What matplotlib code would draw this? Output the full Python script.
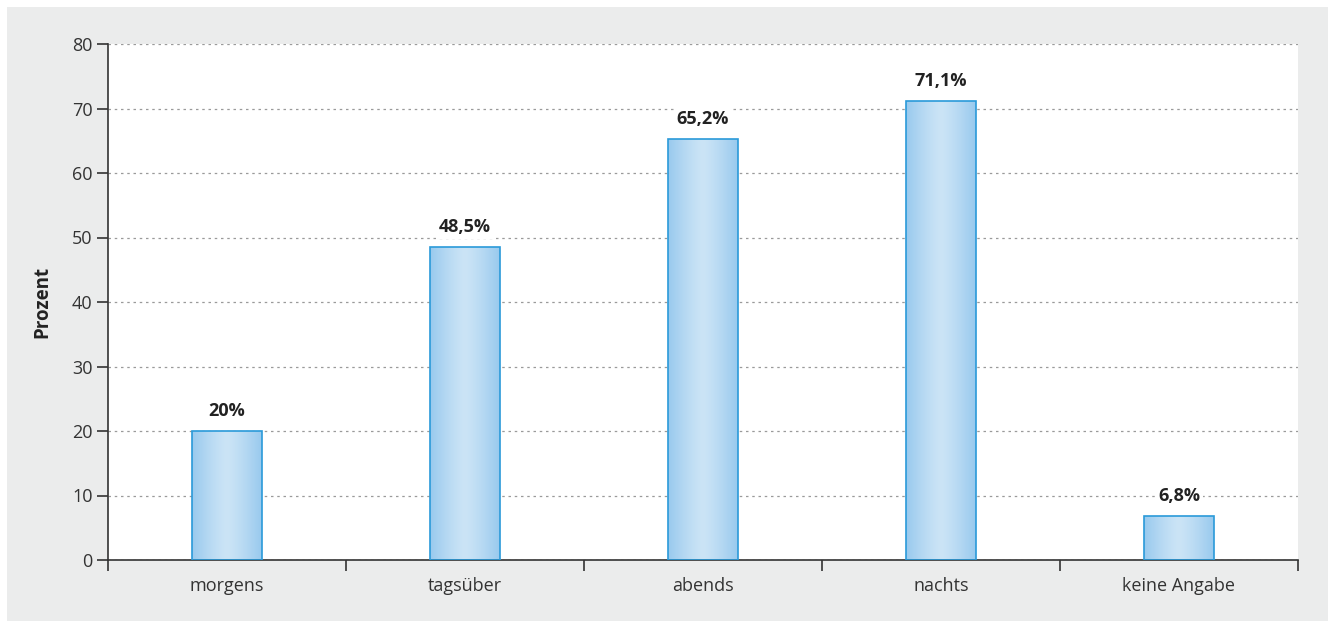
import matplotlib.pyplot as plt
from matplotlib.patches import Rectangle
import numpy as np

plt.rcParams['font.family'] = ['Open Sans', 'DejaVu Sans']

# daten
kategorien = ['morgens', 'tagsüber', 'abends', 'nachts', 'keine Angabe']
werte = [20, 48.5, 65.2, 71.1, 6.8]
beschriftung = ['20%', '48,5%', '65,2%', '71,1%', '6,8%']

fig = plt.figure(figsize=(13.35, 6.21), dpi=100)
fig.patch.set_facecolor('white')
# grauer hintergrund
fig.patches.append(Rectangle((7 / 1335, 0), 1321 / 1335, 614 / 621,
                             transform=fig.transFigure, facecolor='#ebecec',
                             edgecolor='none', zorder=-10))

ax = fig.add_axes([108 / 1335, 1 - 560 / 621, 1190 / 1335, 516 / 621])
ax.set_facecolor('white')

x = np.arange(len(kategorien))
breite = 0.29

# farbverlauf für die balken
t = np.linspace(-1, 1, 200)
g = np.abs(t) ** 1.3
c_rand = np.array([0x98, 0xc9, 0xee]) / 255
c_mitte = np.array([0xcb, 0xe4, 0xf6]) / 255
grad = (c_mitte[None, :] * (1 - g[:, None]) + c_rand[None, :] * g[:, None])[None, :, :]

bars = ax.bar(x, werte, width=breite, facecolor='none', edgecolor='#2a9ad9',
              linewidth=1.2, zorder=3)
for b in bars:
    x0, y0 = b.get_x(), b.get_y()
    w, h = b.get_width(), b.get_height()
    im = ax.imshow(grad, extent=[x0, x0 + w, y0, y0 + h], aspect='auto',
                   zorder=2, interpolation='bilinear')
    im.set_clip_path(b)

for xi, v, s in zip(x, werte, beschriftung):
    ax.text(xi, v + 1.7, s, ha='center', va='bottom', fontsize=13,
            fontweight='bold', color='#222222', zorder=4,
            bbox=dict(facecolor='white', edgecolor='none', pad=2))

ax.set_xlim(-0.5, len(kategorien) - 0.5)
ax.set_ylim(0, 80)
ax.set_yticks(range(0, 81, 10))
ax.yaxis.grid(True, linestyle=(0, (2, 3)), color='#9a9a9a', linewidth=0.9)
ax.set_axisbelow(True)

ax.set_xticks(x)
ax.set_xticklabels(kategorien)
ax.set_xticks(np.arange(-0.5, len(kategorien)), minor=True)
ax.tick_params(axis='x', which='major', length=0, pad=12, labelsize=13,
               labelcolor='#333333')
ax.tick_params(axis='x', which='minor', length=8, width=1.2, color='#333333',
               direction='out')
ax.tick_params(axis='y', length=8, width=1.2, color='#333333', labelsize=13,
               labelcolor='#333333', pad=3)

for sp in ['top', 'right']:
    ax.spines[sp].set_visible(False)
for sp in ['left', 'bottom']:
    ax.spines[sp].set_color('#333333')
    ax.spines[sp].set_linewidth(1.2)

ax.set_ylabel('Prozent', fontsize=13.5, fontweight='bold', color='#222222',
              labelpad=14)

fig.savefig('out.png', dpi=100, facecolor=fig.get_facecolor())
